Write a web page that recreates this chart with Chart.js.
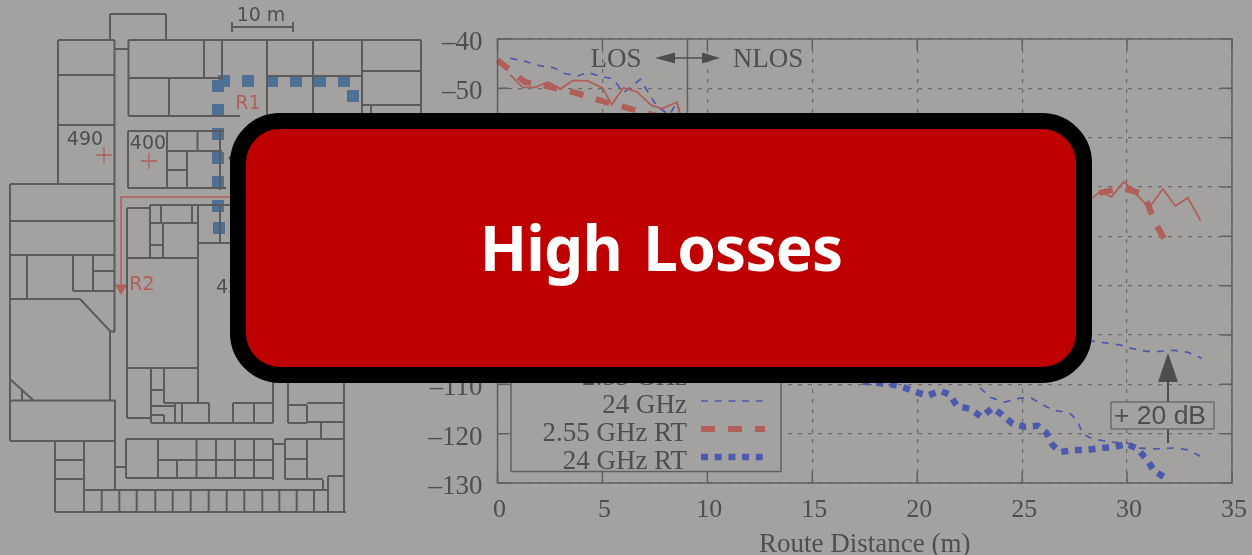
<!DOCTYPE html>
<html>
<head>
<meta charset="utf-8">
<title>High Losses</title>
<script src="https://cdn.jsdelivr.net/npm/chart.js@4"></script>
<style>
  html, body { margin: 0; padding: 0; background: #a3a2a0; }
  body { position: relative; width: 1252px; height: 555px; overflow: hidden; }
  canvas { position: absolute; top: 0; left: 0; }
  .banner {
    position: absolute; left: 230px; top: 113px; width: 862px; height: 270px;
    box-sizing: border-box; border: 16px solid #000; border-radius: 50px;
    background: #bf0000; color: #fff;
    font: bold 62px "Noto Sans", sans-serif;
    letter-spacing: -0.8px;
    display: flex; align-items: center; justify-content: center;
    padding-bottom: 2px;
    word-spacing: 6px;
  }
</style>
</head>
<body>
<canvas id="planChart" width="430" height="555"></canvas>
<canvas id="lossChart" width="1252" height="555"></canvas>
<div class="banner">High Losses</div>
<script>
// path loss curves, [route distance in m, dB]
const measured255 = [[0.6, -47.2], [1.2, -49.8], [1.8, -49.8], [2.4, -48.7], [3.0, -50.1], [3.6, -48.4], [4.3, -48.5],
  [5.0, -49.9], [5.45, -53.3], [6.0, -49.9], [6.65, -50.7], [7.35, -53.5], [7.85, -54.1], [8.55, -52.8], [8.7, -55.4],
  [28.35, -72.2], [28.7, -71], [29.25, -72], [29.85, -68.9], [31.05, -74.2], [31.7, -70.4], [32.3, -73.8], [32.9, -72.2], [33.5, -76.8]];
const measured24Shifted = [[0.6, -43.9], [1.3, -44.5], [2.0, -45.4], [2.65, -45.8], [3.2, -47], [3.8, -47.5], [4.3, -46.8],
  [5.0, -47.7], [5.5, -48], [6.0, -50.9], [6.8, -48.2], [7.15, -50.6], [7.6, -53.7], [8.2, -55.4], [8.55, -52.8], [8.7, -55],
  [28.3, -101.2], [29.0, -101.6], [29.65, -102], [30.2, -102.7], [30.9, -103.3], [31.55, -103.3], [32.25, -103.1], [32.9, -103.5], [33.55, -104.7]];
const measured24 = [[23.0, -110.7], [23.45, -112.6], [24.15, -113.6], [24.9, -112.8], [25.45, -112.8], [26, -114.2], [26.45, -115.2],
  [27.25, -115.8], [27.6, -117.2], [27.9, -120.1], [28.35, -121.1], [29.3, -121.7], [30, -121.9], [30.5, -122.9], [31.4, -123.1],
  [32.25, -122.9], [32.9, -123.3], [33.55, -124.7]];
const rayTraced255 = [[0, -44.3], [1.3, -48.7], [2.5, -49.7], [3.8, -51], [5, -52.6], [6.2, -54], [7.4, -55.4],
  [28.35, -71.6], [28.7, -71.2], [29.8, -70.2], [30.8, -71.4], [31.3, -76.9], [31.85, -81.1]];
const rayTraced24 = [[17.4, -109.5], [18.05, -109.7], [18.65, -109.9], [19.3, -110.5], [19.9, -111.5], [20.5, -112.3], [21.1, -111.3],
  [21.55, -112.1], [21.9, -114.4], [22.55, -115], [23.05, -116.6], [23.6, -114.8], [24.05, -116.2], [24.55, -118], [25.1, -118.6],
  [25.75, -118.4], [26.15, -119.8], [26.45, -122.3], [26.85, -123.7], [27.45, -123.3], [28.1, -123.3], [28.8, -122.9], [29.4, -122.7],
  [30, -122.1], [30.5, -123.1], [30.95, -125.3], [31.3, -127.6], [31.85, -129]];
const legendNames = ['2.55 GHz', '24 GHz', '2.55 GHz RT', '24 GHz RT'];

// floor plan, in picture units: wall pieces are [x1, y1, x2, y2]
const walls = [
  [110,40,110,14],[110,14,166,14],[166,14,166,40],
  [58,40,114.5,40],[58,40,58,184],[114.5,40,114.5,332],[58,75,114.5,75],[58,125,114.5,125],[10,184,114.5,184],[114,49,128,49],
  [128.5,40,421,40],[128.5,40,128.5,116],[128.5,116,240,116],[421,40,421,116],
  [204,40,204,78],[222,40,222,80],[267,40,267,116],[313,40,313,116],[362,40,362,116],
  [128.5,78,222,78],[267,76,362,76],[169,78,169,116],[362,71,421,71],[362,105,421,105],[371,106,371,116],
  [128,131,224,131],[128,131,128,188],[128,188,226,188],[167,131,167,188],[197.5,131,197.5,151],[167,151,222,151],
  [187,151,187,188],[167,170,187,170],[220,131,220,190],
  [10,184,10,441],[10,221,114.5,221],[10,255,114.5,255],[27,255,27,299],[73,255,73,291],[93,255,93,291],[93,271,114.5,271],[73,291,114.5,291],
  [10,299,80,299],[80,299,110,331],[110,331,115,332],[110,331,110,400],[10,379,33,400],[22,390,22,400],[10,400.5,115,400.5],
  [115,400,115,490],[10,441,115,441],
  [55,441,55,512],[84,441,84,512],[55,460,84,460],[55,479,84,479],[55,512,346,512],[84,490,328,490],
  [101.7,490,101.7,512],[119.3,490,119.3,512],[136.7,490,136.7,512],[155.3,490,155.3,512],[172.7,490,172.7,512],[190.7,490,190.7,512],
  [208.7,490,208.7,512],[226.7,490,226.7,512],[244.3,490,244.3,512],[262.3,490,262.3,512],[279.3,490,279.3,512],[296.7,490,296.7,512],[314,490,314,512],
  [328,476,328,512],[328,476,344,476],[323,480,323,490],[344,380,344,512],
  [127,208,127,418],[127,418,151,418],[127,368,198,368],[198,205,198,403],[151,368,151,423],[164,368,164,403],[151,390,164,390],[151,406,174,406],
  [164,403,209,403],[209,403,209,423],[151,423,273,423],[151,415,164,415],[164,415,164,423],[175,403,175,423],[182,403,182,423],
  [233,403,233,423],[233,403,273,403],[254,403,254,423],[273,380,273,423],[288,380,288,423],[288,405,307,405],[307,405,307,423],[288,423,307,423],
  [307,403,344,403],[321,423,321,439],[307,422,344,422],
  [126,439,273,439],[273,444,285,444],[285,439,344,439],[126,439,126,478],[126,478,273,478],[273,439,273,480],[158,439,158,478],[158,460,273,460],
  [196.5,439,196.5,478],[216,439,216,478],[235,439,235,478],[254,439,254,478],[177,460,177,478],
  [285,439,285,479],[285,479,323,479],[307,439,307,479],[285,459,307,459],[115,467,126,467],
  [127,208,150,208],[150,205,230,205],[150,205,150,258],[161,205,161,223],[150,223,198,223],[150,245,163,245],[163,223,163,258],[192,205,192,223],
  [127,258,198,258],[198,243,230,243],[220,205,220,243],
  [232,27,293,27],[232,22,232,32],[293,22,293,32]
];
const routeR1 = [[224,81],[248,81],[272,81],[296,81],[320,81],[344,81],[353,96],[218,86],[218,110],[218,134],[218,158],[218,182],[218,206],[219,228]];
const routeR2 = [[240,197],[121,197],[121,285]];
const routeR2Head = [[121,288]];
const txPositions = [[104,155],[149,161]];
const planLabels = [['490',85,140],['400',148,144],['420',246,158],['42',228,288],['10 m',261,16]];
const routeLabels = [['R1',248,104],['R2',142,285]];

const bgColor = '#a3a2a0';
const inkColor = '#4f4e4c';
const wallColor = '#5c5b59';
const redColor = '#b05f5a';
const blueColor = '#4d59ad';
const serifFont = '"Liberation Serif", serif';

function toPoints(rows) {
  return rows.map(r => ({ x: r[0], y: r[1] }));
}

function wallPoints() {
  const pts = [];
  for (const w of walls) {
    pts.push({ x: w[0], y: w[1] }, { x: w[2], y: w[3] }, { x: NaN, y: NaN });
  }
  return pts;
}

const planLabelPlugin = {
  id: 'planLabels',
  afterDatasetsDraw(chart) {
    const { ctx, scales } = chart;
    ctx.save();
    ctx.font = '19px "DejaVu Sans", sans-serif';
    ctx.textAlign = 'center';
    ctx.textBaseline = 'middle';
    ctx.fillStyle = inkColor;
    for (const l of planLabels) {
      ctx.fillText(l[0], scales.x.getPixelForValue(l[1]), scales.y.getPixelForValue(l[2]));
    }
    ctx.fillStyle = redColor;
    for (const l of routeLabels) {
      ctx.fillText(l[0], scales.x.getPixelForValue(l[1]), scales.y.getPixelForValue(l[2]));
    }
    ctx.restore();
  }
};

new Chart(document.getElementById('planChart'), {
  type: 'scatter',
  data: {
    datasets: [
      { data: wallPoints(), showLine: true, spanGaps: false, borderColor: wallColor, borderWidth: 2, pointRadius: 0 },
      { data: toPoints(routeR2), showLine: true, borderColor: redColor, borderWidth: 1.5, pointRadius: 0 },
      { data: toPoints(routeR2Head), pointStyle: 'triangle', rotation: 180, pointRadius: 7, backgroundColor: redColor, borderWidth: 0 },
      { data: toPoints(txPositions), pointStyle: 'cross', pointRadius: 8, borderColor: redColor, borderWidth: 1.3 },
      { data: toPoints(routeR1), pointStyle: 'rect', pointRadius: 8.5, backgroundColor: '#4d7094', borderWidth: 0 }
    ]
  },
  options: {
    responsive: false,
    animation: false,
    layout: { padding: 0, autoPadding: false },
    plugins: { legend: { display: false }, tooltip: { enabled: false } },
    scales: {
      x: { display: false, min: 0, max: 430 },
      y: { display: false, min: 0, max: 555, reverse: true }
    }
  },
  plugins: [planLabelPlugin]
});

function drawArrowHead(ctx, tipX, tipY, baseX, baseY, half) {
  const horizontal = tipY === baseY;
  ctx.beginPath();
  ctx.moveTo(tipX, tipY);
  ctx.lineTo(baseX + (horizontal ? 0 : -half), baseY + (horizontal ? -half : 0));
  ctx.lineTo(baseX + (horizontal ? 0 : half), baseY + (horizontal ? half : 0));
  ctx.closePath();
  ctx.fill();
}

// frame, gnuplot style inner ticks, LOS marker, +20 dB note and the key
const lossPlugin = {
  id: 'lossExtras',
  afterDatasetsDraw(chart) {
    const { ctx, chartArea: area, scales } = chart;
    const sx = scales.x;
    const sy = scales.y;
    ctx.save();

    ctx.strokeStyle = '#62615f';
    ctx.lineWidth = 1.5;
    ctx.strokeRect(area.left, area.top, area.right - area.left, area.bottom - area.top);
    ctx.beginPath();
    for (const t of sx.ticks) {
      const px = sx.getPixelForValue(t.value);
      ctx.moveTo(px, area.top);
      ctx.lineTo(px, area.top + 11);
      ctx.moveTo(px, area.bottom);
      ctx.lineTo(px, area.bottom - 11);
    }
    for (const t of sy.ticks) {
      const py = sy.getPixelForValue(t.value);
      ctx.moveTo(area.left, py);
      ctx.lineTo(area.left + 11, py);
      ctx.moveTo(area.right, py);
      ctx.lineTo(area.right - 11, py);
    }
    ctx.stroke();

    // LOS / NLOS split
    const splitX = sx.getPixelForValue(9.05);
    ctx.beginPath();
    ctx.moveTo(splitX, area.top);
    ctx.lineTo(splitX, sy.getPixelForValue(-95));
    ctx.stroke();
    ctx.fillStyle = inkColor;
    ctx.strokeStyle = inkColor;
    ctx.beginPath();
    ctx.moveTo(670, 58);
    ctx.lineTo(705, 58);
    ctx.stroke();
    drawArrowHead(ctx, 655, 58, 675, 58, 5.5);
    drawArrowHead(ctx, 720, 58, 702, 58, 5.5);
    ctx.font = '27px ' + serifFont;
    ctx.textAlign = 'center';
    ctx.textBaseline = 'middle';
    ctx.fillText('LOS', 616, 60);
    ctx.fillText('NLOS', 768, 60);

    // +20 dB note
    ctx.lineWidth = 2;
    ctx.beginPath();
    ctx.moveTo(1168, 443);
    ctx.lineTo(1168, 380);
    ctx.stroke();
    drawArrowHead(ctx, 1168, 353, 1168, 382, 10);
    ctx.fillStyle = bgColor;
    ctx.fillRect(1111, 402, 103, 27);
    ctx.lineWidth = 1.2;
    ctx.strokeStyle = '#62615f';
    ctx.strokeRect(1111, 402, 103, 27);
    ctx.fillStyle = inkColor;
    ctx.font = '26.5px "Liberation Sans", sans-serif';
    ctx.fillText('+ 20 dB', 1160, 417);

    // key
    ctx.fillStyle = bgColor;
    ctx.fillRect(511, 300, 270, 171.5);
    ctx.lineWidth = 1.5;
    ctx.strokeRect(511, 300, 270, 171.5);
    const keyStyles = [
      { color: redColor, width: 1.7, dash: [] },
      { color: blueColor, width: 1.7, dash: [7, 6.7] },
      { color: redColor, width: 6, dash: [14, 13] },
      { color: blueColor, width: 6.5, dash: [7, 6.7] }
    ];
    ctx.font = '27px ' + serifFont;
    ctx.textAlign = 'right';
    legendNames.forEach((name, i) => {
      const rowY = 376 + i * 28;
      ctx.fillStyle = inkColor;
      ctx.fillText(name, 687, rowY + 2);
      ctx.strokeStyle = keyStyles[i].color;
      ctx.lineWidth = keyStyles[i].width;
      ctx.setLineDash(keyStyles[i].dash);
      ctx.beginPath();
      ctx.moveTo(701, rowY - 3);
      ctx.lineTo(765, rowY - 3);
      ctx.stroke();
      ctx.setLineDash([]);
    });
    ctx.restore();
  }
};

const gridStyle = { color: '#6d6c6a', lineWidth: 1.2, drawTicks: false };
const axisBorder = { display: false, dash: [4, 6] };

new Chart(document.getElementById('lossChart'), {
  type: 'scatter',
  data: {
    datasets: [
      { label: legendNames[0], data: toPoints(measured255), showLine: true, borderColor: redColor, borderWidth: 1.8, pointRadius: 0, clip: false },
      { label: legendNames[1], data: toPoints(measured24Shifted), showLine: true, borderColor: blueColor, borderWidth: 1.7, borderDash: [7, 7], pointRadius: 0, clip: false },
      { label: legendNames[1], data: toPoints(measured24), showLine: true, borderColor: blueColor, borderWidth: 1.7, borderDash: [7, 7], pointRadius: 0, clip: false },
      { label: legendNames[2], data: toPoints(rayTraced255), showLine: true, borderColor: redColor, borderWidth: 6, borderDash: [14, 13], pointRadius: 0, clip: false },
      { label: legendNames[3], data: toPoints(rayTraced24), showLine: true, borderColor: blueColor, borderWidth: 6.5, borderDash: [7, 6.7], pointRadius: 0, clip: false }
    ]
  },
  options: {
    responsive: false,
    animation: false,
    layout: { padding: { top: 39, right: 20, left: 0, bottom: 0 }, autoPadding: false },
    plugins: { legend: { display: false }, tooltip: { enabled: false } },
    scales: {
      x: {
        min: 0,
        max: 35,
        grid: gridStyle,
        border: axisBorder,
        ticks: { stepSize: 5, maxRotation: 0, padding: 12, labelOffset: 2, color: inkColor, font: { family: serifFont, size: 26 } },
        title: { display: true, text: 'Route Distance (m)', color: inkColor, font: { family: serifFont, size: 27 }, padding: { top: 5, bottom: -6 } },
        afterFit(axis) {
          axis.height = 72;
          // the last label may hang past the plot, keep the right edge fixed
          axis.paddingRight = 0;
        }
      },
      y: {
        min: -130,
        max: -40,
        grid: gridStyle,
        border: axisBorder,
        ticks: {
          stepSize: 10,
          padding: 15,
          labelOffset: 4,
          color: inkColor,
          font: { family: serifFont, size: 27 },
          callback: v => String(v).replace('-', '\u2013')
        },
        afterFit(axis) { axis.width = 497.5; }
      }
    }
  },
  plugins: [lossPlugin]
});
</script>
</body>
</html>
